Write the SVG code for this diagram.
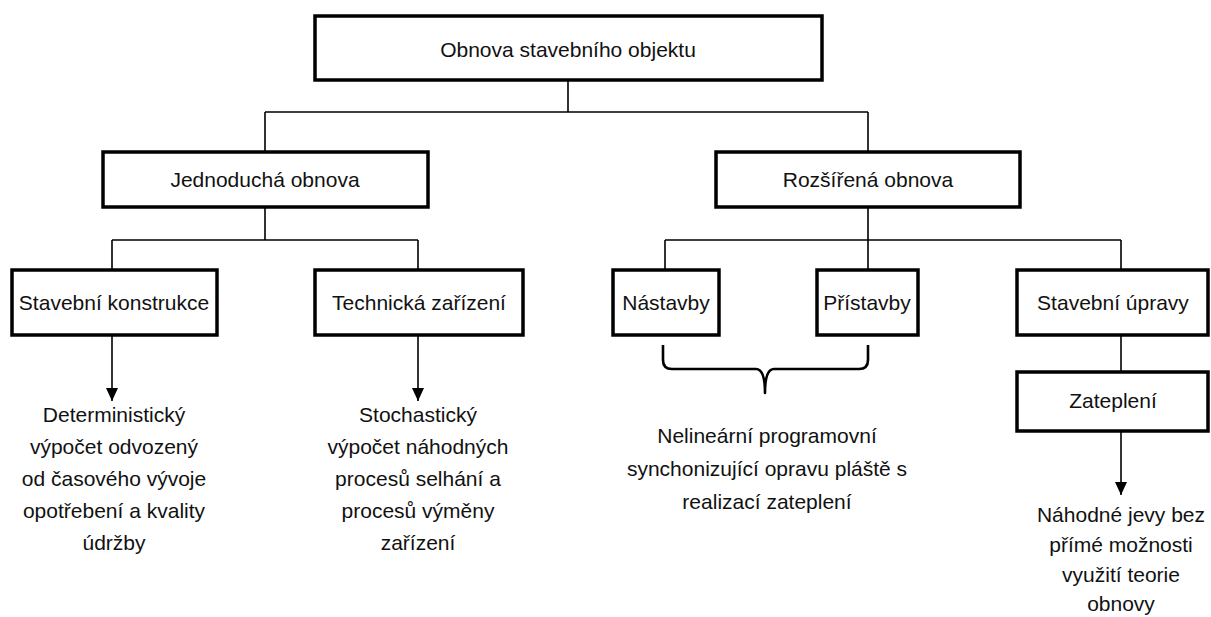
<svg xmlns="http://www.w3.org/2000/svg" width="1211" height="617" viewBox="0 0 1211 617">
<style>
.box{fill:#fff;stroke:#000;stroke-width:3.5}
.ln{fill:none;stroke:#000;stroke-width:1.6}
.brace{fill:none;stroke:#000;stroke-width:2.6;stroke-linejoin:round}
text{font-family:"Liberation Sans",Arial,sans-serif;font-size:21px;fill:#111;text-anchor:middle}
</style>
<defs>
<marker id="ah" markerWidth="13" markerHeight="12" refX="13" refY="6" orient="auto" markerUnits="userSpaceOnUse" viewBox="0 0 13 12">
<path d="M0,0 L13,6 L0,12 Z" fill="#000"/>
</marker>
</defs>
<g id="connectors">
<path class="ln" d="M568,80 V112 M265,112 H868 M265,112 V152 M868,112 V152"/>
<path class="ln" d="M265,207 V240 M112,240 H418 M112,240 V270 M418,240 V270"/>
<path class="ln" d="M868,207 V240 M665,240 H1121 M665,240 V270 M868,240 V270 M1121,240 V270"/>
<path class="ln" d="M1121,335 V372"/>
<path class="ln" d="M112,335 V401" marker-end="url(#ah)"/>
<path class="ln" d="M418,335 V401" marker-end="url(#ah)"/>
<path class="ln" d="M1121,431 V495" marker-end="url(#ah)"/>
<path class="brace" d="M663,345 V360 Q663,369 672,369 H756 Q765,369 765,393 Q765,369 774,369 H859 Q868,369 868,360 V345"/>
</g>
<g id="n-root"><rect class="box" x="315" y="16" width="507" height="64"/><text x="568" y="57">Obnova stavebního objektu</text></g>
<g id="n-jednoducha"><rect class="box" x="103" y="152" width="325" height="55"/><text x="265" y="187">Jednoduchá obnova</text></g>
<g id="n-rozsirena"><rect class="box" x="716" y="152" width="304" height="55"/><text x="868" y="187">Rozšířená obnova</text></g>
<g id="n-konstrukce"><rect class="box" x="12" y="270" width="205" height="65"/><text x="114" y="310">Stavební konstrukce</text></g>
<g id="n-technicka"><rect class="box" x="315" y="270" width="208" height="65"/><text x="419" y="310">Technická zařízení</text></g>
<g id="n-nastavby"><rect class="box" x="613" y="270" width="106" height="65"/><text x="666" y="310">Nástavby</text></g>
<g id="n-pristavby"><rect class="box" x="817" y="270" width="101" height="65"/><text x="867" y="310">Přístavby</text></g>
<g id="n-upravy"><rect class="box" x="1017" y="270" width="191" height="65"/><text x="1113" y="310">Stavební úpravy</text></g>
<g id="n-zatepleni"><rect class="box" x="1017" y="372" width="191" height="59"/><text x="1113" y="408">Zateplení</text></g>
<g id="t-det"><text x="114" y="422">Deterministický</text><text x="114" y="454">výpočet odvozený</text><text x="114" y="486">od časového vývoje</text><text x="114" y="518">opotřebení a kvality</text><text x="114" y="550">údržby</text></g>
<g id="t-sto"><text x="418" y="422">Stochastický</text><text x="418" y="454">výpočet náhodných</text><text x="418" y="486">procesů selhání a</text><text x="418" y="518">procesů výměny</text><text x="418" y="550">zařízení</text></g>
<g id="t-nel"><text x="767" y="443">Nelineární programovní</text><text x="767" y="476">synchonizující opravu pláště s</text><text x="767" y="509">realizací zateplení</text></g>
<g id="t-nah"><text x="1121" y="522">Náhodné jevy bez</text><text x="1121" y="552">přímé možnosti</text><text x="1121" y="582">využití teorie</text><text x="1121" y="611">obnovy</text></g>
</svg>
